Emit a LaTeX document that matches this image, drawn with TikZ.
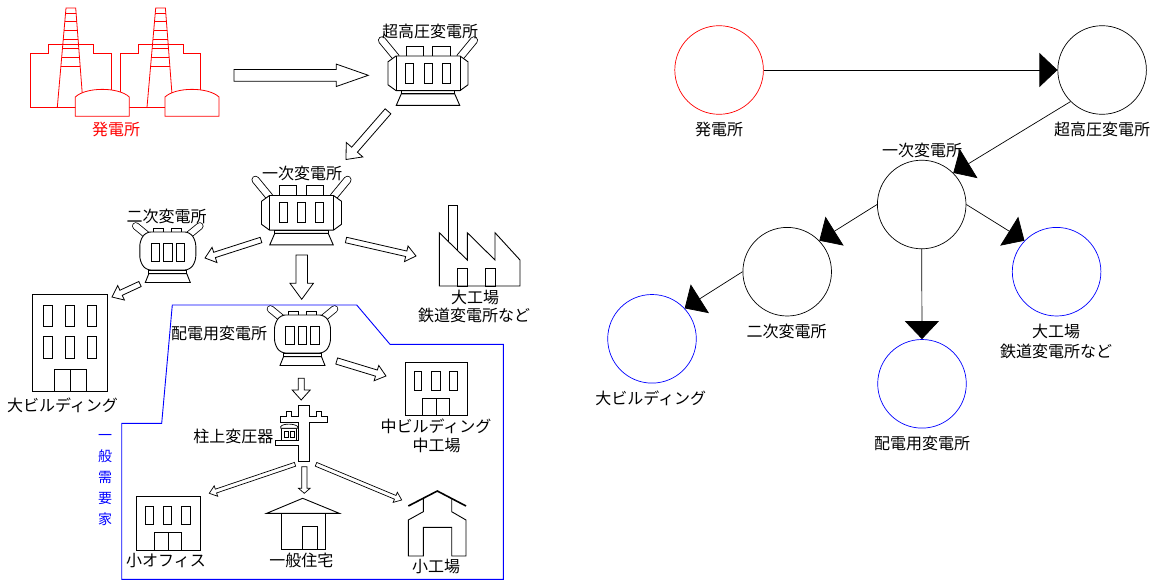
\documentclass[tikz,border=0pt]{standalone}
\usepackage{fontspec}
\newfontfamily\jpfont{Noto Sans CJK JP}
\usetikzlibrary{calc,arrows.meta}

% hollow block arrow: [style]{from}{to}{shaft half width}{head half width}{head length}
\newcommand\hollowarrow[6][]{%
  \coordinate (hb) at ($(#3)!#6!(#2)$);
  \draw[blockarrow,#1] ($(#2)!#4!90:(#3)$) -- ($(hb)!#4!90:(#3)$) -- ($(hb)!#5!90:(#3)$)
    -- (#3) -- ($(hb)!#5!-90:(#3)$) -- ($(hb)!#4!-90:(#3)$) -- ($(#2)!#4!-90:(#3)$) -- cycle;
}

\tikzset{
  lbl/.style={font=\jpfont\fontsize{16}{18}\selectfont, inner sep=0pt, text height=14pt, text depth=2pt},
  vch/.style={font=\jpfont\fontsize{14}{16}\selectfont, inner sep=0pt, text height=12.3pt, text depth=1.7pt, blue},
  blockarrow/.style={line width=0.8pt, line join=miter, fill=white},
  circ/.style={circle, draw, minimum size=88.6pt, inner sep=0pt, line width=0.7pt},
  flow/.style={-{Triangle[length=18pt,width=34pt]}, line width=0.7pt},
  % large transformer with hexagonal end caps
  bigtrans/.pic={
    \foreach \s in {-1,1}{
      \draw[line width=8pt, line cap=round] (\s*32,-16) -- (\s*46,-33);
      \draw[line width=6.3pt, line cap=round, white] (\s*32,-16) -- (\s*46,-33);
    }
    \draw[fill=white] (-22,-27) rectangle (-5,-17.3);
    \draw[fill=white] (4.5,-27) rectangle (22,-17.3);
    \draw[fill=white] (-32,-17.3) -- (32,-17.3) -- (40,-11.5) -- (40,11.5) -- (32,17.3)
      -- (-32,17.3) -- (-40,11.5) -- (-40,-11.5) -- cycle;
    \draw (-32,-17.3) -- (-32,17.3) (32,-17.3) -- (32,17.3);
    \foreach \c in {-18.3,0,18.3} \draw (\c-4,-10) rectangle (\c+4,10);
    \draw (-26.7,17.3) rectangle (26.7,20.5);
    \draw (-26.7,20.5) -- (26.7,20.5) -- (31.7,32) -- (-31.7,32) -- cycle;
  },
  % smaller transformer with rounded sides
  smalltrans/.pic={
    \foreach \s in {-1,1}{
      \draw[line width=7.5pt, line cap=round] (\s*21,-16) -- (\s*32,-25);
      \draw[line width=5.9pt, line cap=round, white] (\s*21,-16) -- (\s*32,-25);
    }
    \draw[fill=white] (-14,-22.5) rectangle (-4,-18.5);
    \draw[fill=white] (4,-22.5) rectangle (14,-18.5);
    \draw[fill=white, rounded corners=5pt] (-22,-19) -- (22,-19) -- (28,-10) -- (28,10) -- (22,19)
      -- (-22,19) -- (-28,10) -- (-28,-10) -- cycle;
    \foreach \c in {-12.5,0,12.5} \draw (\c-4.2,-8) rectangle (\c+4.2,10);
    \draw (-19,19) rectangle (19,22.7);
    \draw (-19,22.7) -- (19,22.7) -- (22.5,31.5) -- (-22.5,31.5) -- cycle;
  }
}

\begin{document}
\begin{tikzpicture}[x=1pt, y=-1pt, line width=0.9pt, line join=miter]
\useasboundingbox (0,0) rectangle (1157,584);

% ---------- power station ----------
\begin{scope}[red, line width=0.8pt]
  \foreach \dx in {0,89.7}{
    \begin{scope}[shift={(\dx,0)}]
      \draw (30.3,107.3) -- (30.3,53) -- (48.3,53) -- (48.3,44) -- (93.3,44) -- (93.3,53)
        -- (111,53) -- (111,107.3) -- cycle;
      \draw (57.3,107.3) -- (66,8) -- (75.7,8) -- (83.3,107.3);
      \foreach \y in {13.3,21.7,30.7,39.3,48.3,57.3,66.7}
        \draw ({57.3+8.7*(107.3-\y)/99.3},\y) -- ({83.3-7.6*(107.3-\y)/99.3},\y);
    \end{scope}
  }
  \foreach \dx in {0,89.7}
    \draw[fill=white, shift={(\dx,0)}] (75.3,116.3) -- (75.3,97)
      .. controls (86,86.8) and (118.6,86.8) .. (129.3,97) -- (129.3,116.3) -- cycle;
\end{scope}
\node[lbl, red] (plant) at (116,129) {発電所};

% ---------- substations ----------
\pic (tA) at (428,73.3) {bigtrans};
\node[lbl] (tAlbl) at (430,31.7) {超高圧変電所};
\pic (tB) at (301.5,212.8) {bigtrans};
\node[lbl] (tBlbl) at (302,173) {一次変電所};
\pic (tC) at (167.8,251) {smalltrans};
\node[lbl] (tClbl) at (166.7,216.7) {二次変電所};
\pic (tD) at (302.5,334) {smalltrans};
\node[lbl] (tDlbl) at (219,333.3) {配電用変電所};

% ---------- large factory ----------
\draw (448.3,241.5) -- (448.3,205.7) -- (457.3,205.7) -- (457.3,250.3);
\draw (439.3,286) -- (439.3,232.7) -- (467.3,260) -- (467.3,232.7) -- (495,260) -- (495,232.7)
  -- (520,260) -- (520,286) -- cycle;
\draw (457.3,268.3) rectangle (467.3,286) (485,268.3) rectangle (495,286);
\node[lbl] (bigfac1) at (475,297.3) {大工場};
\node[lbl] (bigfac2) at (474,315) {鉄道変電所など};

% ---------- large building ----------
\draw (32.7,294.3) rectangle (107.3,391);
\foreach \c in {48.3,70,91.7}
  \draw (\c-4.5,305) rectangle (\c+4.5,326.7) (\c-4.5,336.7) rectangle (\c+4.5,358.3);
\draw (54,369.3) rectangle (86.7,391) (70,369.3) -- (70,391);
\node[lbl] (bigbldg) at (62.5,405) {大ビルディング};

% ---------- general consumers area ----------
\draw[blue] (172.3,305) -- (356.7,305) -- (390,344.3) -- (503.3,344.3) -- (503.3,579.3)
  -- (121.7,579.3) -- (121.7,423.3) -- (161.7,423.3) -- cycle;
\foreach \c [count=\i] in {一,般,需,要,家}
  \node[vch] (gen\i) at (105,{435+21*(\i-1)}) {\c};

% medium building
\draw (405,362.3) rectangle (467.3,415);
\foreach \a/\b in {414/421.7,431.7/440,449.3/457.7}
  \draw (\a,371.7) rectangle (\b,390);
\draw (422.7,398.3) rectangle (449.3,415) (436,398.3) -- (436,415);
\node[lbl] (midbldg1) at (436,426) {中ビルディング};
\node[lbl] (midbldg2) at (436.5,445.7) {中工場};

% pole transformer
\draw[fill=white] (298.3,405) -- (309.3,405) -- (309.3,416.7) -- (316.7,416.7) -- (316.7,411)
  -- (321.7,411) -- (321.7,416.7) -- (327.7,416.7) -- (327.7,422.3) -- (309.3,422.3)
  -- (309.3,461.7) -- (298.3,461.7) -- (298.3,445.7) -- (275,445.7) -- (275,440)
  -- (298.3,440) -- (298.3,422.3) -- (280,422.3) -- (280,416.7) -- (286.7,416.7)
  -- (286.7,411) -- (291.7,411) -- (291.7,416.7) -- (298.3,416.7) -- cycle;
\begin{scope}[line width=0.7pt]
  \draw[fill=white] (281.7,428.3) rectangle (296.7,440);
  \draw[fill=white] (280.7,428.3) -- (280.7,426.5) .. controls (283,423.3) and (294.4,423.3)
    .. (297.7,426.5) -- (297.7,428.3) -- cycle;
  \draw (284.3,431.7) rectangle (288.3,437.7) (290,431.7) rectangle (294,437.7);
\end{scope}
\node[lbl] (pole) at (233.3,436) {柱上変圧器};

% small office
\draw (136.7,496.7) rectangle (200,550.7);
\foreach \a/\b in {145/153.3,163.3/171.7,181.7/190}
  \draw (\a,506) rectangle (\b,524);
\draw (154.3,532.7) rectangle (181.7,550.7) (168,532.7) -- (168,550.7);
\node[lbl] (office) at (166,560) {小オフィス};

% house
\draw (266.7,513.3) -- (302.7,498.3) -- (339.3,513.3) -- cycle;
\draw (281,513.3) -- (281,549) -- (325,549) -- (325,513.3);
\draw (302.7,549) -- (302.7,526.7) -- (317.7,526.7) -- (317.7,549);
\node[lbl] (house) at (301.3,560) {一般住宅};

% small factory
\draw[line width=1.6pt] (408.3,506) -- (437.3,491) -- (466,506);
\draw (423.3,498.2) -- (423.3,511.7) -- (408.3,520) -- (408.3,556) -- (423.3,556) -- (423.3,527.3)
  -- (451.7,527.3) -- (451.7,556) -- (466,556) -- (466,520) -- (451.7,511.7) -- (451.7,498.5);
\node[lbl] (smallfac) at (436,566) {小工場};

% ---------- block arrows ----------
\coordinate (a1s) at (234,75.3);    \coordinate (a1e) at (368.3,75.3);
\coordinate (a2s) at (388,111.3);   \coordinate (a2e) at (346,159.5);
\coordinate (a3s) at (261,240);     \coordinate (a3e) at (205,258);
\coordinate (a4s) at (301.7,255);   \coordinate (a4e) at (301.7,299.3);
\coordinate (a5s) at (346,240);     \coordinate (a5e) at (416,256);
\coordinate (a6s) at (140,284);     \coordinate (a6e) at (112,297);
\coordinate (a7s) at (336.7,361);   \coordinate (a7e) at (386,376);
\coordinate (a8s) at (301.2,378.3); \coordinate (a8e) at (301.2,400);
\coordinate (a9s) at (295,464.3);   \coordinate (a9e) at (209.3,493.3);
\coordinate (a10s) at (304.3,466.7);\coordinate (a10e) at (304.3,493.3);
\coordinate (a11s) at (316,464.3);  \coordinate (a11e) at (401.7,500);
\hollowarrow{a1s}{a1e}{5.9pt}{11.2pt}{32pt}
\hollowarrow{a2s}{a2e}{3.8pt}{11pt}{13pt}
\hollowarrow{a3s}{a3e}{2.8pt}{8pt}{10pt}
\hollowarrow{a4s}{a4e}{5.7pt}{11.7pt}{16pt}
\hollowarrow{a5s}{a5e}{2.8pt}{8pt}{10pt}
\hollowarrow{a6s}{a6e}{2.8pt}{8pt}{10pt}
\hollowarrow{a7s}{a7e}{3.2pt}{8pt}{10pt}
\hollowarrow{a8s}{a8e}{3pt}{9pt}{10pt}
\hollowarrow[line width=0.7pt]{a9s}{a9e}{2pt}{5.5pt}{7pt}
\hollowarrow[line width=0.7pt]{a10s}{a10e}{2.6pt}{5.8pt}{5pt}
\hollowarrow[line width=0.7pt]{a11s}{a11e}{2pt}{5.5pt}{7pt}

% ---------- network graph ----------
\node[circ, draw=red] (hatsu) at (719.1,70) {};
\node[circ] (chou) at (1102.1,70) {};
\node[circ] (ichi) at (921.7,204.5) {};
\node[circ] (niji) at (787.2,271.7) {};
\node[circ, draw=blue] (bigb) at (652,338.8) {};
\node[circ, draw=blue] (haiden) at (922,383.8) {};
\node[circ, draw=blue] (daik) at (1056.6,271.7) {};

\node[lbl] (hatsuL) at (719,129) {発電所};
\node[lbl] (chouL) at (1102,129) {超高圧変電所};
\node[lbl] (ichiL) at (922,150) {一次変電所};
\node[lbl] (nijiL) at (786.6,331.7) {二次変電所};
\node[lbl] (bigbL) at (650.8,398) {大ビルディング};
\node[lbl] (haidenL) at (922,443.3) {配電用変電所};
\node[lbl] (daikL1) at (1056,331) {大工場};
\node[lbl] (daikL2) at (1056,351) {鉄道変電所など};

\draw[flow] (hatsu.east) -- (chou.west);
\draw[flow] (chou.225) -- (ichi.45);
\draw[flow] (ichi.west) -- (niji.44);
\draw[flow] (ichi.east) -- (daik.136);
\draw[flow] (niji.west) -- (bigb.43);
\draw[flow] (ichi.south) -- (haiden.north);
\end{tikzpicture}
\end{document}
